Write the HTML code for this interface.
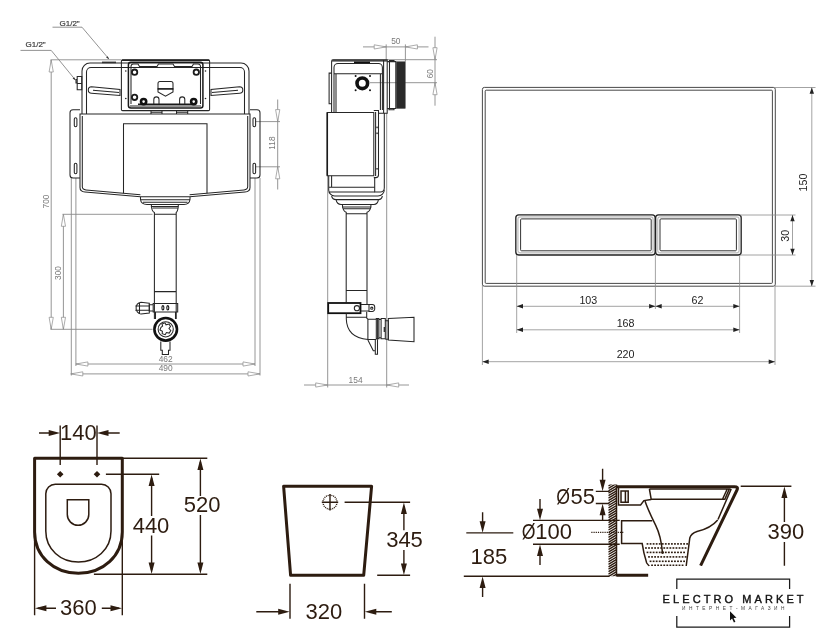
<!DOCTYPE html>
<html><head><meta charset="utf-8">
<style>
html,body{margin:0;padding:0;background:#fff;}
svg{display:block;will-change:transform}
text{font-family:"Liberation Sans",sans-serif;}
.d{stroke:#8a8a8a;stroke-width:0.9;fill:none}
.da{fill:#fff;stroke:#8a8a8a;stroke-width:0.7}
.dt{fill:#7a7a7a;font-size:8.4px}
.k{stroke:#262626;stroke-width:1.05;fill:none}
.k2{stroke:#1a1a1a;stroke-width:1.5;fill:none}
.g{stroke:#777;stroke-width:0.8;fill:none}
.p{stroke:#333;stroke-width:0.9;fill:none}
.pd{stroke:#8c8c8c;stroke-width:0.8;fill:none}
.pt{fill:#222;font-size:10.7px}
.b{stroke:#2d1c10;stroke-width:3;fill:none;stroke-linejoin:round}
.b1{stroke:#2d1c10;stroke-width:1.5;fill:none}
.bd{stroke:#2d1c10;stroke-width:1.4;fill:none}
.ba{fill:#2d1c10;stroke:none}
.bt{fill:#2d1c10;font-size:22px}
</style></head>
<body>
<svg width="835" height="640" viewBox="0 0 835 640">
<rect width="835" height="640" fill="#fff"/>
<g id="front">
<!-- leaders -->
<path class="g" d="M52.5 27.2H82L108.5 58.5M20.5 50.4H51.2L75 79.5"/>
<path d="M109.3 59.6l-3.2-2 1.6-1.4z M75.8 80.6l-3.2-2 1.6-1.4z" fill="#333"/>
<text x="59.5" y="25.6" font-size="8" fill="#3a3a3a" stroke="#3a3a3a" stroke-width="0.2">G1/2"</text>
<text x="25.5" y="47.2" font-size="8" fill="#3a3a3a" stroke="#3a3a3a" stroke-width="0.2">G1/2"</text>
<!-- dims left -->
<path class="d" d="M50.5 59.8H121 M51.2 60V329 M50.5 329.3H152.5 M63.4 214.5V329 M62.5 214.3H152.5"/>
<path class="da" d="M51.2 60l-2.1 12h4.2z M51.2 329.3l-2.1-12h4.2z M63.4 214.3l-2.1 12h4.2z M63.4 329.3l-2.1-12h4.2z"/>
<text class="dt" transform="translate(49.3 201.5) rotate(-90)" text-anchor="middle">700</text>
<text class="dt" transform="translate(61.4 273) rotate(-90)" text-anchor="middle">300</text>
<!-- bottom dims -->
<path class="d" d="M71.3 178V375.5 M75.9 178V366 M255 178V366 M260 178V375.5 M75.9 364H255 M70.8 373.9H260"/>
<path class="da" d="M75.9 364l12-2.1v4.2z M255 364l-12-2.1v4.2z M70.8 373.9l12-2.1v4.2z M260 373.9l-12-2.1v4.2z"/>
<text class="dt" x="165.7" y="361.6" text-anchor="middle">462</text>
<text class="dt" x="165.7" y="371.4" text-anchor="middle">490</text>
<!-- dim 118 -->
<path class="d" d="M255.5 121.6H280 M255.5 166.8H280 M277.7 99.5V189.5"/>
<path class="da" d="M277.7 121.6l-2.1-12h4.2z M277.7 166.8l-2.1 12h4.2z"/>
<text class="dt" transform="translate(275.4 143) rotate(-90)" text-anchor="middle">118</text>
<!-- frame tube -->
<path class="k" d="M82 114V71a8 8 0 0 1 8-8H241a8 8 0 0 1 8 8V114 M86.5 114V72a4.5 4.5 0 0 1 4.5-4.5H240a4.500 4.500 0 0 1 4.500 4.500V114" />
<rect x="102" y="61.6" width="14" height="1.6" fill="#333"/>
<!-- slots on frame -->
<path class="k" d="M91.500 86.800L120 89.500V95.500L91.500 93.200a3.200 3.200 0 0 1 0-6.400z M93 90.200L119 92.600"/>
<path class="k" d="M239.600 86.800L211 89.500V95.500L239.600 93.200a3.200 3.200 0 0 0 0-6.400z M238 90.200L212 92.600"/>
<!-- left fitting -->
<path class="k" d="M77.200 76.500H81.800V89.800H77.200z M76 79.500H77.200V83H76z M77.200 83.500H82"/>
<!-- brackets -->
<path class="k" d="M80 109.800H73a3 3 0 0 0-3 3V175a3 3 0 0 0 3 3H80"/>
<path class="k" d="M250 109.800H257a3 3 0 0 1 3 3V175a3 3 0 0 1-3 3H250"/>
<g class="k" stroke-width="0.8">
<rect x="74.300" y="117.800" width="2.600" height="9" rx="1.300"/><rect x="74.300" y="163.200" width="2.600" height="10.500" rx="1.300"/>
<rect x="253" y="117.800" width="2.600" height="9" rx="1.300"/><rect x="253" y="163.200" width="2.600" height="10.500" rx="1.300"/>
</g>
<!-- tank -->
<path class="k" d="M80 114H250V187.500Q250 191.600 245 192.100L189.600 196.800H140.400L85 192.100Q80 191.600 80 187.500z"/>
<path class="k" stroke-width="0.7" d="M82.300 116V186.500Q82.300 189.500 86 189.900L140.400 194.700 M247.700 116V186.500Q247.700 189.500 244 189.900L189.600 194.700"/>
<path class="k" d="M123.500 193.200V123.700H207V193.200"/>
<!-- control box -->
<rect x="121.400" y="59.800" width="88.200" height="50.800" rx="1.2" fill="#fff" class="k" stroke-width="1.3"/>
<rect x="122" y="59.600" width="87" height="1.400" fill="#222"/>
<rect x="128.400" y="62.300" width="74.500" height="45.700" rx="2.500" class="k2" stroke-width="1.700" fill="#fff"/>
<path class="k" d="M131 104V66.500a2.500 2.500 0 0 1 2.500-2.500H138l1.500 2.500H157l1.500-2.500H173l1.500 2.500H192l1.500-2.500H198a2.500 2.500 0 0 1 2.500 2.500V104"/>
<path class="k2" d="M138 104.200H193"/>
<path class="k" d="M130 106H201"/>
<g fill="#fff" stroke="#1a1a1a" stroke-width="1.800">
<circle cx="134.600" cy="72.200" r="2.700"/><circle cx="196.300" cy="72.200" r="2.700"/><circle cx="134.600" cy="97.300" r="2.700"/>
</g>
<g fill="#fff" stroke="#111" stroke-width="2.600">
<circle cx="143.600" cy="101.600" r="2.600"/><circle cx="193.700" cy="101.600" r="2.600"/>
</g>
<path class="k" d="M153.800 104V99.500a2.600 2.600 0 0 1 5.200 0V104 M179.600 104V99.500a2.600 2.600 0 0 1 5.200 0V104"/>
<path class="k" d="M158 92V83.500a2 2 0 0 1 2-2H171a2 2 0 0 1 2 2V92L165.500 96.200z"/>
<path d="M157.600 88.900H173.400" stroke="#111" stroke-width="1.600"/>
<g fill="#222"><circle cx="125.800" cy="71" r="0.8"/><circle cx="125.800" cy="98.500" r="0.8"/><circle cx="205.500" cy="71" r="0.8"/><circle cx="205.500" cy="98.500" r="0.8"/></g>
<path class="k" d="M151 110.600V114M162 110.600V114M176.500 110.600V114M187.700 110.600V114M151 112.300H162M176.500 112.300H187.700"/>
<!-- outlet -->
<path class="k" d="M140.500 197V199.500Q141 204.400 147 204.400H184Q189.500 204.400 190 199.500V197 M140.500 199.800H190 M143 202.200H187.500 M151.400 204.400V206.500H178.300V204.400 M151.400 206.500Q152 211.500 154.400 212.500V319 M178.300 206.500Q177.700 211.500 176.200 212.500V319 M152.500 208H177.500 M154.400 214.300H176.200 M154.400 291.600H176.200"/>
<!-- clamp & valve -->
<path class="k" d="M153.200 303.500H177.700V312H153.200z M149.300 304.800H153.200V311H149.300z"/>
<path class="k" stroke-width="0.9" d="M149.300 303.200L141 302.200a6 6 0 0 0 0 11.800L149.300 313z M135.300 306H149.300 M135.300 310.200H149.300 M139.500 302.500V313.800"/>
<g fill="none" stroke="#111" stroke-width="1.1"><ellipse cx="162.900" cy="307.800" rx="1" ry="2.200"/><ellipse cx="167.800" cy="307.800" rx="1" ry="2.200"/></g>

<path class="k" d="M155.500 312V319 M175.500 312V319"/>
<circle cx="165.700" cy="329.300" r="11.300" fill="#fff" stroke="#111" stroke-width="2.600"/>
<circle cx="165.700" cy="329.300" r="7.600" class="k"/>
<path class="k" d="M162 324l3-1.200 1 2 3-0.800 1.500 2.500-1.500 2 1.800 2-1.600 2.600-2.800-0.600-1.200 2.200-3-1 0.200-2.400-2.400-1.400 1-2.600 1.600-1.200z"/>
<path class="k" d="M160.800 341.600V350.300H162.300V354.500H168.500V350.300H170V341.600"/>
</g>

<g id="side">
<!-- dims -->
<path class="d" d="M363 46.900H428.500 M386.200 44.400V60.500 M405.400 44.400V61.600 M435 36.700V105.700 M387.200 59.700H437 M370 82.700H437"/>
<path class="da" d="M386.200 46.900l-12-2.1v4.2z M405.400 46.900l12-2.1v4.2z M435 59.700l-2.1-12h4.2z M435 82.700l-2.1 12h4.2z"/>
<text class="dt" x="395.800" y="44.300" text-anchor="middle">50</text>
<text class="dt" transform="translate(433 73.700) rotate(-90)" text-anchor="middle">60</text>
<path class="d" d="M327.700 176V387.500 M386.700 113V387.500 M304 385H409"/>
<path class="da" d="M327.700 385l-12-2.1v4.2z M386.700 385l12-2.1v4.2z"/>
<text class="dt" x="355.600" y="383" text-anchor="middle">154</text>
<!-- top box -->
<path class="k" d="M331.600 112V61.500a1.800 1.800 0 0 1 1.800-1.800H387.200V113.300H378.500"/>
<rect x="331.800" y="59.600" width="55.400" height="2" fill="#444"/>
<rect x="354" y="61.500" width="16" height="1.600" fill="#111"/>
<path class="k" stroke-width="0.9" d="M334 112V67.500a4 4 0 0 1 4-4H378.400a4 4 0 0 1 4 4V110"/>
<path class="k" stroke-width="0.7" stroke="#555" d="M336 112V73.700 M334 73.700H382.400 M380.400 73.700V110 M383.600 60V113"/>
<path class="k" d="M331.600 73.100H329.100V103.800H331.600"/>
<circle cx="362.300" cy="83.300" r="5.300" fill="#fff" stroke="#111" stroke-width="3.600"/>
<g fill="#111"><circle cx="355.600" cy="76" r="1"/><circle cx="370" cy="76" r="1"/><circle cx="355.600" cy="90.300" r="1"/><circle cx="370" cy="90.300" r="1"/></g>
<!-- back block -->
<path class="k" d="M387.200 61.600H395.800V108.500H387.200 M389.500 61.600V108.500 M389 60.600H394V61.600 M389 108.500V109.800H394V108.500"/>
<rect x="396.400" y="61.600" width="9" height="46.900" fill="#555"/><path d="M396.9 61.6V108.5M397.9 61.6V108.5M398.9 61.6V108.5M399.9 61.6V108.5M400.9 61.6V108.5M401.9 61.6V108.5M402.9 61.6V108.5M403.9 61.6V108.5M404.9 61.6V108.5" stroke="#111" stroke-width="0.75" fill="none"/>
<!-- tank side -->
<path class="k" d="M327.200 112.500H373.800V175.700H327.200z"/>
<path class="k2" stroke-width="1.200" d="M327.300 112.500V175.700"/>
<path class="k" d="M373.800 110.500H378.500V175a2.600 2.600 0 0 1-2.600 2.600H373.800 M375.600 112V176 M384.300 113V188a4 4 0 0 1-4 4H374.700V177.600"/>
<g fill="#222"><rect x="376.400" y="126.600" width="1.300" height="1.600"/><rect x="376.400" y="132.500" width="1.300" height="1.600"/><rect x="376.400" y="168" width="1.300" height="1.600"/></g>
<path class="k" d="M328.700 175.700V190a6 6 0 0 0 6 6H378a6.300 6.300 0 0 0 6.300-6.300 M331.600 175.700V187.200 M328.700 187.200H374.700 M329.500 192H374.700"/>
<path class="k" d="M331.600 196Q332.500 199.600 336 199.600H378.500Q381.500 199.600 382.400 196 M336 199.600Q337 204.400 341 204.400H374Q377.500 204.400 378.500 199.600"/>
<path class="k" d="M342.500 204.400V207H370.900V204.400 M342.500 207Q343.500 211.300 346.200 212.300V302.600 M370.900 207Q370 211.300 367 212.300V304.500 M343.500 208.800H370 M346.200 213.800H367 M346.200 290.500H367"/>
<!-- clamp -->
<rect x="328.200" y="303" width="32.300" height="10.200" fill="#fff" stroke="#111" stroke-width="1.800"/>
<circle cx="356.900" cy="308.200" r="2.600" class="k" fill="#fff"/>
<path class="k" d="M361 304.500H369V311H361 M369 304.500H372.300a2.400 2.400 0 0 1 2.400 2.400V309a2.400 2.400 0 0 1-2.400 2.400H369z"/>
<circle cx="371.800" cy="308.200" r="1.100" class="k"/>
<!-- elbow -->
<path class="k" d="M346.300 313.500V319Q346.800 337.500 367.900 339.600 M346.300 317.200H366.700 M366.700 311.800V318L367.900 319.200H376.300 M367.900 319.200V339.900 M367.900 339.500H376.300"/>
<path class="k" d="M376.300 318.400H378.900V338.700H376.300z M377.600 318.400V338.700 M378.900 319.400H381.100V337.800H378.900 M381.100 318.400H385.300V338.700H381.100z M385.300 320.700H388.300V339.300H385.300 M384.200 327V332"/>
<path class="k" d="M388.300 318.400L414 317.200V341.700L388.300 339.900z"/>
<path class="k" d="M367.900 339.900L373.300 350.700H375.300 M375.300 339.300V354.300H377.500V339.300"/>
</g>

<g id="plate">
<rect x="482.4" y="87.4" width="292.9" height="198.8" rx="2" class="p" stroke-width="1.2" stroke="#444"/>
<rect x="485.2" y="90.2" width="287.2" height="193.2" rx="1" class="p" stroke-width="0.7" stroke="#777"/>
<rect x="515.8" y="214.8" width="139.4" height="40.2" rx="3" fill="#f2f2f2" stroke="#222" stroke-width="1.3"/>
<rect x="655.6" y="214.8" width="85.6" height="40.2" rx="3" fill="#f2f2f2" stroke="#222" stroke-width="1.3"/>
<rect x="518" y="217" width="135" height="35.8" rx="2" fill="#fff" stroke="#888" stroke-width="0.6"/>
<rect x="657.8" y="217" width="81.2" height="35.8" rx="2" fill="#fff" stroke="#888" stroke-width="0.6"/>
<rect x="520.6" y="218.9" width="130.6" height="31.9" rx="1" fill="#fff" stroke="#333" stroke-width="1"/>
<rect x="660" y="218.9" width="76.400" height="31.9" rx="1" fill="#fff" stroke="#333" stroke-width="1"/>
<!-- dims -->
<path class="pd" d="M740 215H795.500 M740 255H795.500 M792.500 215V255 M775 87.500H815.500 M775 286.2H815.500 M811.800 87.500V286.2"/>
<path class="pd" d="M516.700 255V333 M655.400 255V309 M739.600 255V333 M482.400 285V365 M775 285V365 M516.700 306.300H655.400 M655.400 306.300H739.600 M516.700 329.800H739.600 M482.400 361.700H775"/>
<g fill="#222">
<path d="M792.500 215l-2.2 6.3h4.4z M792.500 255l-2.2-6.3h4.4z M811.800 87.500l-2.2 6.3h4.4z M811.800 286.2l-2.2-6.3h4.4z"/>
<path d="M516.700 306.300l6.3-2.2v4.4z M655.400 306.300l-6.3-2.2v4.4z M655.400 306.300l6.3-2.2v4.4z M739.600 306.300l-6.3-2.2v4.4z M516.700 329.800l6.3-2.2v4.4z M739.600 329.800l-6.3-2.2v4.4z M482.400 361.700l6.3-2.2v4.4z M775 361.700l-6.3-2.2v4.4z"/>
</g>
<text class="pt" x="588.300" y="303.600" text-anchor="middle">103</text>
<text class="pt" x="697.500" y="303.600" text-anchor="middle">62</text>
<text class="pt" x="625.600" y="326.600" text-anchor="middle">168</text>
<text class="pt" x="625.600" y="358" text-anchor="middle">220</text>
<text class="pt" transform="translate(789.300 235.700) rotate(-90)" text-anchor="middle">30</text>
<text class="pt" transform="translate(806.500 182.500) rotate(-90)" text-anchor="middle">150</text>
</g>

<g id="top">
<path class="b" d="M34.600 458.200H122.300V532C122.300 556 103 573.300 78.400 573.300S34.600 556 34.600 532z"/>
<path class="b1" d="M55.500 484.300H101.500a9.500 9.500 0 0 1 9.500 9.500V531C111 549.500 96 562 78.400 562S45.800 549.500 45.800 531V493.800a9.500 9.500 0 0 1 9.500-9.500z"/>
<path class="b1" d="M67.300 499.800H88.800V514.500a10.750 10.750 0 0 1-21.500 0z"/>
<path class="ba" d="M60.200 471l3.300 3.300-3.300 3.300-3.300-3.300z M97 471l3.300 3.300-3.300 3.300-3.300-3.300z"/>
<!-- dims -->
<path class="bd" d="M60.200 425.500V465 M97 425.500V465 M39 433H56 M101 433H119.700"/>
<path class="ba" d="M60.200 433l-11.5-3v6z M97 433l11.5-3v6z"/>
<text class="bt" x="78.400" y="440.200" text-anchor="middle">140</text>
<path class="bd" d="M122.300 458.200H207.300 M93.900 574.300H207.300 M105.900 474.300H159.200 M200.400 462V496 M200.400 515V570 M151.600 478V516 M151.600 535.500V570 M34.600 540V615.200 M122.300 540V615.200 M38 608.300H56 M101.800 608.300H119"/>
<path class="ba" d="M200.400 458.500l-3 11.5h6z M200.400 574l-3-11.5h6z M151.600 474.600l-3 11.5h6z M151.600 574l-3-11.5h6z M34.900 608.300l11.5-3v6z M122 608.300l-11.5-3v6z"/>
<text class="bt" x="202.200" y="512" text-anchor="middle">520</text>
<text class="bt" x="151" y="533" text-anchor="middle">440</text>
<text class="bt" x="78.400" y="615" text-anchor="middle">360</text>
</g>

<g id="bowlfront">
<path class="b" d="M283.600 486.200H371.600L363.700 575.300H290.600z"/>
<circle cx="330" cy="502.200" r="7" class="bd" stroke-width="1.300" stroke-dasharray="1 0.900"/>
<path class="bd" d="M330 494V510.500 M321.800 502.200H338.200"/>
<path class="bd" d="M344.600 502.200H410.100 M377.200 575.300H410.100 M403.900 506V530.300 M403.900 550V571.500 M290 583.700V618.800 M364.500 583.700V618.800 M256.300 611.800H281 M373.500 611.800H391.800"/>
<path class="ba" d="M403.900 502.500l-3 11.5h6z M403.900 575l-3-11.5h6z M289.700 611.800l-11.5-3v6z M364.800 611.800l11.5-3v6z"/>
<text class="bt" x="404.500" y="547.200" text-anchor="middle">345</text>
<text class="bt" x="323.800" y="618.800" text-anchor="middle">320</text>
</g>

<g id="bowlside">
<clipPath id="hc"><rect x="608.2" y="484.4" width="8.6" height="91.8"/></clipPath>
<path d="M608.4 485.9L616.6 481.0 M608.4 488.3L616.6 483.4 M608.4 490.8L616.6 485.9 M608.4 493.2L616.6 488.3 M608.4 495.7L616.6 490.8 M608.4 498.1L616.6 493.2 M608.4 500.6L616.6 495.7 M608.4 503.0L616.6 498.1 M608.4 505.5L616.6 500.6 M608.4 507.9L616.6 503.0 M608.4 510.4L616.6 505.5 M608.4 512.8L616.6 507.9 M608.4 515.3L616.6 510.4 M608.4 517.7L616.6 512.8 M608.4 520.2L616.6 515.3 M608.4 522.6L616.6 517.8 M608.4 525.1L616.6 520.2 M608.4 527.6L616.6 522.7 M608.4 530.0L616.6 525.1 M608.4 532.5L616.6 527.6 M608.4 534.9L616.6 530.0 M608.4 537.4L616.6 532.5 M608.4 539.8L616.6 534.9 M608.4 542.3L616.6 537.4 M608.4 544.7L616.6 539.8 M608.4 547.2L616.6 542.3 M608.4 549.6L616.6 544.7 M608.4 552.1L616.6 547.2 M608.4 554.5L616.6 549.6 M608.4 557.0L616.6 552.1 M608.4 559.4L616.6 554.5 M608.4 561.9L616.6 557.0 M608.4 564.3L616.6 559.4 M608.4 566.8L616.6 561.9 M608.4 569.2L616.6 564.3 M608.4 571.7L616.6 566.8 M608.4 574.1L616.6 569.2 M608.4 576.6L616.6 571.7 M608.4 579.0L616.6 574.1 M608.4 581.5L616.6 576.6 M608.4 583.9L616.6 579.0" class="bd" stroke-width="1" clip-path="url(#hc)"/>
<path class="b1" stroke-width="1.4" d="M616.500 484.600V576.200"/>
<!-- bowl -->
<path class="b" stroke-width="2.700" d="M617 486.700H734.500Q738.600 486.700 737 490L700.600 565.700"/>
<path class="b" stroke-width="2.300" d="M616.500 575.200H648.500"/>
<path class="b1" d="M649.400 489H730.500 M649.400 489L651.200 499.300H724.800L729.300 489 M727 489.500L722.500 499.300 M731.200 489L718 519.500"/>
<path class="b1" stroke-width="1.9" d="M621 490.900H628.200V502.200H621z M625.400 491.500V501.800"/>
<path class="b1" d="M618.500 487V505H640.600L643.900 500.600L651.200 499.500"/>
<path class="b1" stroke-width="2.100" d="M645 501Q648 510 655.700 525.300Q661 536 662.400 552"/>
<circle cx="662.500" cy="552.600" r="1.400" class="ba"/>
<path class="b1" stroke-width="1.500" d="M652.300 520.800H621.600V543.600H642.200Q643.500 553 646.700 563Q649 567 653 568.500"/>
<path class="b1" stroke-width="1.500" d="M686.200 566L689.800 538Q691 533.500 697 531.500Q711 528 717.700 519.900"/>
<g class="ba"><rect x="646.60" y="543.10" width="1.8" height="1.6"/><rect x="649.65" y="543.10" width="1.8" height="1.6"/><rect x="652.70" y="543.10" width="1.8" height="1.6"/><rect x="655.75" y="543.10" width="1.8" height="1.6"/><rect x="658.80" y="543.10" width="1.8" height="1.6"/><rect x="661.85" y="543.10" width="1.8" height="1.6"/><rect x="664.90" y="543.10" width="1.8" height="1.6"/><rect x="667.95" y="543.10" width="1.8" height="1.6"/><rect x="671.00" y="543.10" width="1.8" height="1.6"/><rect x="674.05" y="543.10" width="1.8" height="1.6"/><rect x="677.10" y="543.10" width="1.8" height="1.6"/><rect x="680.15" y="543.10" width="1.8" height="1.6"/><rect x="683.20" y="543.10" width="1.8" height="1.6"/><rect x="686.25" y="543.10" width="1.8" height="1.6"/><rect x="645.05" y="547.20" width="1.8" height="1.6"/><rect x="648.10" y="547.20" width="1.8" height="1.6"/><rect x="651.15" y="547.20" width="1.8" height="1.6"/><rect x="654.20" y="547.20" width="1.8" height="1.6"/><rect x="657.25" y="547.20" width="1.8" height="1.6"/><rect x="660.30" y="547.20" width="1.8" height="1.6"/><rect x="663.35" y="547.20" width="1.8" height="1.6"/><rect x="666.40" y="547.20" width="1.8" height="1.6"/><rect x="669.45" y="547.20" width="1.8" height="1.6"/><rect x="672.50" y="547.20" width="1.8" height="1.6"/><rect x="675.55" y="547.20" width="1.8" height="1.6"/><rect x="678.60" y="547.20" width="1.8" height="1.6"/><rect x="681.65" y="547.20" width="1.8" height="1.6"/><rect x="684.70" y="547.20" width="1.8" height="1.6"/><rect x="646.60" y="551.60" width="1.8" height="1.6"/><rect x="649.65" y="551.60" width="1.8" height="1.6"/><rect x="652.70" y="551.60" width="1.8" height="1.6"/><rect x="655.75" y="551.60" width="1.8" height="1.6"/><rect x="658.80" y="551.60" width="1.8" height="1.6"/><rect x="661.85" y="551.60" width="1.8" height="1.6"/><rect x="664.90" y="551.60" width="1.8" height="1.6"/><rect x="667.95" y="551.60" width="1.8" height="1.6"/><rect x="671.00" y="551.60" width="1.8" height="1.6"/><rect x="674.05" y="551.60" width="1.8" height="1.6"/><rect x="677.10" y="551.60" width="1.8" height="1.6"/><rect x="680.15" y="551.60" width="1.8" height="1.6"/><rect x="683.20" y="551.60" width="1.8" height="1.6"/><rect x="648.10" y="556.10" width="1.8" height="1.6"/><rect x="651.15" y="556.10" width="1.8" height="1.6"/><rect x="654.20" y="556.10" width="1.8" height="1.6"/><rect x="657.25" y="556.10" width="1.8" height="1.6"/><rect x="660.30" y="556.10" width="1.8" height="1.6"/><rect x="663.35" y="556.10" width="1.8" height="1.6"/><rect x="666.40" y="556.10" width="1.8" height="1.6"/><rect x="669.45" y="556.10" width="1.8" height="1.6"/><rect x="672.50" y="556.10" width="1.8" height="1.6"/><rect x="675.55" y="556.10" width="1.8" height="1.6"/><rect x="678.60" y="556.10" width="1.8" height="1.6"/><rect x="681.65" y="556.10" width="1.8" height="1.6"/><rect x="684.70" y="556.10" width="1.8" height="1.6"/><rect x="649.65" y="560.50" width="1.8" height="1.6"/><rect x="652.70" y="560.50" width="1.8" height="1.6"/><rect x="655.75" y="560.50" width="1.8" height="1.6"/><rect x="658.80" y="560.50" width="1.8" height="1.6"/><rect x="661.85" y="560.50" width="1.8" height="1.6"/><rect x="664.90" y="560.50" width="1.8" height="1.6"/><rect x="667.95" y="560.50" width="1.8" height="1.6"/><rect x="671.00" y="560.50" width="1.8" height="1.6"/><rect x="674.05" y="560.50" width="1.8" height="1.6"/><rect x="677.10" y="560.50" width="1.8" height="1.6"/><rect x="680.15" y="560.50" width="1.8" height="1.6"/><rect x="683.20" y="560.50" width="1.8" height="1.6"/><rect x="651.15" y="564.50" width="1.8" height="1.6"/><rect x="654.20" y="564.50" width="1.8" height="1.6"/><rect x="657.25" y="564.50" width="1.8" height="1.6"/><rect x="660.30" y="564.50" width="1.8" height="1.6"/><rect x="663.35" y="564.50" width="1.8" height="1.6"/><rect x="666.40" y="564.50" width="1.8" height="1.6"/><rect x="669.45" y="564.50" width="1.8" height="1.6"/><rect x="672.50" y="564.50" width="1.8" height="1.6"/><rect x="675.55" y="564.50" width="1.8" height="1.6"/><rect x="678.60" y="564.50" width="1.8" height="1.6"/><rect x="681.65" y="564.50" width="1.8" height="1.6"/></g>
<!-- dims -->
<path class="bd" d="M595.800 491.400H609.500 M595.800 503.500H609.500 M602.600 468.800V484 M602.600 511V520.400 M533 520.400H619.700 M533 544.300H619.700 M540 499V513 M540 552V565.100 M466.300 532.900H513.300 M463.800 576.200H609.600 M482.600 512.300V525 M482.600 584V597.100 M740.700 486.300H791.400 M784.400 494V522 M784.400 542V565.700"/>
<path class="bd" stroke-dasharray="1.200 1" d="M591.300 532.400H623.500"/>
<path class="ba" d="M602.600 491.200l-3-11.5h6z M602.600 503.700l-3 11.5h6z M540 520.200l-3-11.5h6z M540 544.500l-3 11.5h6z M482.600 532.700l-3-11.5h6z M482.600 576.400l-3 11.5h6z M784.400 486.600l-3 11.5h6z"/>
<text class="bt" transform="translate(556.3 503.6) scale(0.8 1)">Ø</text><text class="bt" x="570.4" y="503.6">55</text>
<text class="bt" transform="translate(521.8 539.3) scale(0.8 1)">Ø</text><text class="bt" x="535.2" y="539.3">100</text>
<text class="bt" x="470.6" y="564.4">185</text>
<text class="bt" x="785.800" y="539" text-anchor="middle">390</text>
</g>
<g id="wm">
<rect x="648.3" y="566" width="187" height="74" fill="#fff"/>
<path d="M676.8 589V579H789.6V589 M676.8 616V627.100H789.6V616" stroke="#1a1a1a" stroke-width="1.25" fill="none"/>
<text x="662.6" y="603.2" font-size="11" fill="#111" stroke="#111" stroke-width="0.4" textLength="141" lengthAdjust="spacing">ELECTRO MARKET</text>
<text x="682" y="609.5" font-size="4.8" fill="#444" textLength="102.500" lengthAdjust="spacing">ИНТЕРНЕТ-МАГАЗИН</text>
<path d="M730 611.2l0 9.3 2.100-1.900 1.800 3.900 1.500-0.700-1.800-3.800 2.900-0.200z" fill="#111"/>
</g>

</svg>
</body></html>
